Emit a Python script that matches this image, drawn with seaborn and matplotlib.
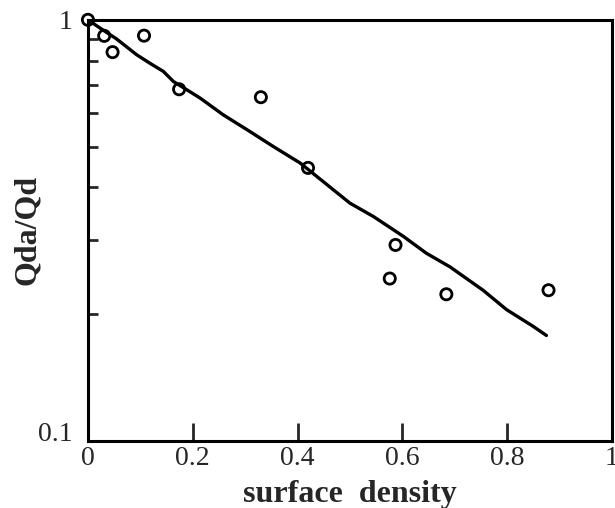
import numpy as np
import pandas as pd
import matplotlib
matplotlib.use('Agg')
import matplotlib.pyplot as plt
import seaborn as sns

# measured points (circles)
point_x = [0.0, 0.031, 0.047, 0.107, 0.174, 0.33, 0.42, 0.576, 0.587, 0.684, 0.879]
point_y = [1.0, 0.916, 0.838, 0.917, 0.684, 0.655, 0.445, 0.243, 0.292, 0.223, 0.228]

# fitted curve
line_x = [0.0, 0.023, 0.055, 0.093, 0.118, 0.144, 0.163, 0.214, 0.258, 0.309,
          0.354, 0.405, 0.5, 0.545, 0.602, 0.646, 0.691, 0.754, 0.799, 0.85, 0.875]
line_y = [1.0, 0.956, 0.900, 0.826, 0.789, 0.754, 0.714, 0.652, 0.595, 0.543,
          0.500, 0.457, 0.367, 0.341, 0.306, 0.279, 0.259, 0.228, 0.205, 0.187, 0.178]

x_ticks = [0, 0.2, 0.4, 0.6, 0.8, 1]
x_tick_labels = ['0', '0.2', '0.4', '0.6', '0.8', '1']

sns.set_style('ticks')
plt.rcParams['font.family'] = ['Liberation Serif', 'DejaVu Serif']

fig = plt.figure(figsize=(6.15, 5.08), dpi=100)
ax = fig.add_axes([0.143, 0.132, 0.852, 0.829])

points = pd.DataFrame({'x': point_x, 'y': point_y})
curve = pd.DataFrame({'x': line_x, 'y': line_y})

sns.lineplot(data=curve, x='x', y='y', ax=ax, color='black', linewidth=2.4)
sns.scatterplot(data=points, x='x', y='y', ax=ax, marker='o', s=65,
                facecolor='none', edgecolor='black', linewidth=2.0, zorder=5,
                clip_on=False)

ax.set_yscale('log')
ax.set_xlim(0, 1)
ax.set_ylim(0.1, 1)
ax.set_xticks(x_ticks)
ax.set_xticklabels(x_tick_labels)
ax.set_yticks([0.1, 1])
ax.set_yticklabels(['0.1', '1'])
ax.set_yticks([0.2, 0.3, 0.4, 0.5, 0.6, 0.7, 0.8, 0.9], minor=True)
ax.yaxis.set_minor_formatter(matplotlib.ticker.NullFormatter())
ax.get_yticklabels()[0].set_verticalalignment('baseline')

ax.tick_params(axis='x', direction='in', length=13, width=2, labelsize=20, pad=4)
ax.tick_params(axis='y', which='major', direction='in', length=0, labelsize=20, pad=11)
ax.tick_params(axis='y', which='minor', direction='in', length=7, width=2)

for side in ['left', 'right', 'top', 'bottom']:
    ax.spines[side].set_visible(True)
    ax.spines[side].set_linewidth(2.2)
    ax.spines[side].set_color('black')

ax.set_xlabel('surface  density', fontsize=23, fontweight='bold', labelpad=6)
ax.set_ylabel('Qda/Qd', fontsize=23, fontweight='bold')
ax.yaxis.set_label_coords(-0.088, 0.5)

fig.savefig('out.png', dpi=100)
